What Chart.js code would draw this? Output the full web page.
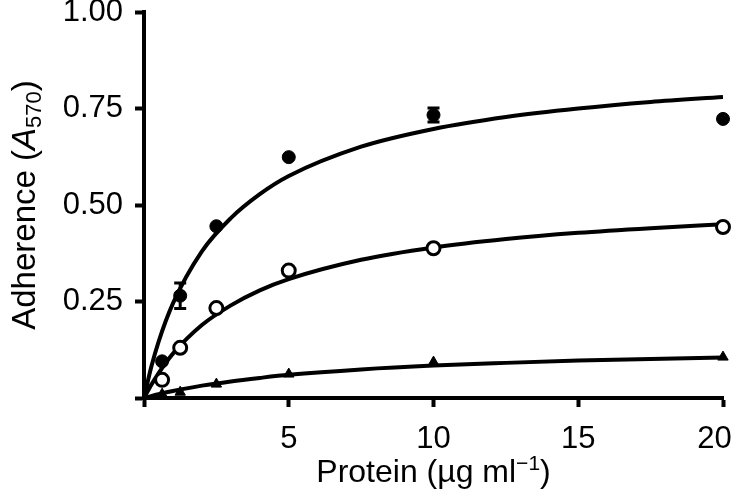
<!DOCTYPE html>
<html>
<head>
<meta charset="utf-8">
<script src="https://cdn.jsdelivr.net/npm/chart.js@4/dist/chart.umd.min.js"></script>
<style>
  html, body { margin: 0; padding: 0; background: #fff; }
  #wrap { width: 733px; height: 496px; }
</style>
</head>
<body>
<div id="wrap"><canvas id="adhChart"></canvas></div>
<script>
// protein concentrations (ug/ml) of the measured points
const proteinX = [0.625, 1.25, 2.5, 5, 10, 20];
// measured adherence, three proteins
const filledY = [0.095, 0.265, 0.445, 0.624, 0.733, 0.723];
const filledErr = [0, 0.033, 0, 0, 0.018, 0];
const openY = [0.047, 0.13, 0.233, 0.33, 0.388, 0.443];
const triY = [0.01, 0.015, 0.036, 0.062, 0.093, 0.106];

// fitted curves
const curveX = [0, 0.25, 0.5, 1, 2, 3, 4, 5, 7.5, 10, 12.5, 15, 17.5, 20];
const curveFilled = [0, 0.08, 0.145, 0.245, 0.38, 0.466, 0.528, 0.575, 0.651, 0.697, 0.728, 0.75, 0.767, 0.78];
const curveOpen = [0, 0.034, 0.064, 0.115, 0.189, 0.24, 0.279, 0.308, 0.358, 0.39, 0.412, 0.428, 0.44, 0.45];
const curveTri = [0, 0.005, 0.0098, 0.018, 0.032, 0.043, 0.052, 0.06, 0.074, 0.084, 0.091, 0.097, 0.101, 0.105];

const xTicks = [5, 10, 15, 20];
const yTicks = [0.25, 0.5, 0.75, 1.0];

const FONT = '"Liberation Sans", Arial, Helvetica, sans-serif';

function pts(xs, ys) {
    return xs.map((v, i) => ({ x: v, y: ys[i] }));
}

function curve(ys) {
    return {
        type: 'line',
        data: pts(curveX, ys),
        borderColor: '#000',
        borderWidth: 4,
        pointRadius: 0,
        fill: false,
        cubicInterpolationMode: 'monotone',
        order: 2
    };
}

function marks(ys, style, fill) {
    return {
        type: 'scatter',
        data: pts(proteinX, ys),
        pointStyle: style,
        pointRadius: style === 'triangle' ? 6 : 6.5,
        pointBackgroundColor: fill,
        pointBorderColor: '#000',
        pointBorderWidth: fill === '#fff' ? 3 : 1,
        clip: false,
        order: 1
    };
}

// error bars and the rich-text axis titles
const extras = {
    id: 'extras',
    afterDatasetsDraw(chart) {
        const { ctx, scales: { x, y } } = chart;
        ctx.save();
        ctx.strokeStyle = '#000';
        ctx.lineWidth = 3;
        filledErr.forEach((e, i) => {
            if (!e) return;
            const px = x.getPixelForValue(proteinX[i]);
            const t = y.getPixelForValue(filledY[i] + e);
            const b = y.getPixelForValue(filledY[i] - e);
            ctx.beginPath();
            ctx.moveTo(px, t); ctx.lineTo(px, b);
            ctx.moveTo(px - 6, t); ctx.lineTo(px + 6, t);
            ctx.moveTo(px - 6, b); ctx.lineTo(px + 6, b);
            ctx.stroke();
        });
        ctx.restore();
    },
    afterDraw(chart) {
        const { ctx, chartArea } = chart;
        ctx.save();
        ctx.fillStyle = '#000';
        ctx.textBaseline = 'alphabetic';

        // y title, rotated
        const parts = [
            ['Adherence (', '33px ' + FONT, 0],
            ['A', 'italic 33px ' + FONT, 0],
            ['570', '22px ' + FONT, 6],
            [')', '33px ' + FONT, 0]
        ];
        let w = 0;
        parts.forEach(p => { ctx.font = p[1]; w += ctx.measureText(p[0]).width; });
        ctx.translate(35, (chartArea.top + chartArea.bottom) / 2);
        ctx.rotate(-Math.PI / 2);
        let cx = -w / 2;
        parts.forEach(p => {
            ctx.font = p[1];
            ctx.fillText(p[0], cx, p[2]);
            cx += ctx.measureText(p[0]).width;
        });
        ctx.setTransform(1, 0, 0, 1, 0, 0);

        // x title
        const xp = [
            ['Protein (\u00b5g ml', '32px ' + FONT, 0],
            ['\u22121', '21px ' + FONT, -12],
            [')', '32px ' + FONT, 0]
        ];
        w = 0;
        xp.forEach(p => { ctx.font = p[1]; w += ctx.measureText(p[0]).width; });
        cx = (chartArea.left + chartArea.right) / 2 - w / 2;
        xp.forEach(p => {
            ctx.font = p[1];
            ctx.fillText(p[0], cx, 482 + p[2]);
            cx += ctx.measureText(p[0]).width;
        });
        ctx.restore();
    }
};

document.addEventListener('DOMContentLoaded', function() {
    const ctx = document.getElementById('adhChart').getContext('2d');
    new Chart(ctx, {
        type: 'scatter',
        data: {
            datasets: [
                curve(curveFilled),
                curve(curveOpen),
                curve(curveTri),
                marks(filledY, 'circle', '#000'),
                marks(openY, 'circle', '#fff'),
                marks(triY, 'triangle', '#000')
            ]
        },
        options: {
            responsive: true,
            maintainAspectRatio: false,
            animation: false,
            layout: { autoPadding: false, padding: { top: 12, right: 10 } },
            plugins: { legend: { display: false }, tooltip: { enabled: false } },
            scales: {
                x: {
                    min: 0, max: 20,
                    afterFit: s => { s.height = 98; s.paddingLeft = 0; s.paddingRight = 0; },
                    afterBuildTicks: s => { s.ticks = [0].concat(xTicks).map(v => ({ value: v })); },
                    border: { color: '#000', width: 4 },
                    grid: { drawOnChartArea: false, drawTicks: true, tickLength: 9, tickWidth: 4, tickColor: '#000' },
                    ticks: {
                        color: '#000', font: { family: FONT, size: 31 }, padding: 14, maxRotation: 0,
                        callback: v => v === 0 ? '' : (v === 20 ? '20\u00a0\u00a0' : String(v))
                    }
                },
                y: {
                    min: 0, max: 1,
                    afterFit: s => { s.width = 144; s.paddingTop = 0; s.paddingBottom = 0; },
                    afterBuildTicks: s => { s.ticks = [0].concat(yTicks).map(v => ({ value: v })); },
                    border: { color: '#000', width: 4 },
                    grid: { drawOnChartArea: false, drawTicks: true, tickLength: 9, tickWidth: 4, tickColor: '#000' },
                    ticks: {
                        color: '#000', font: { family: FONT, size: 31 }, padding: 12,
                        callback: v => v === 0 ? '' : v.toFixed(2)
                    }
                }
            }
        },
        plugins: [extras]
    });
});
</script>
</body>
</html>
